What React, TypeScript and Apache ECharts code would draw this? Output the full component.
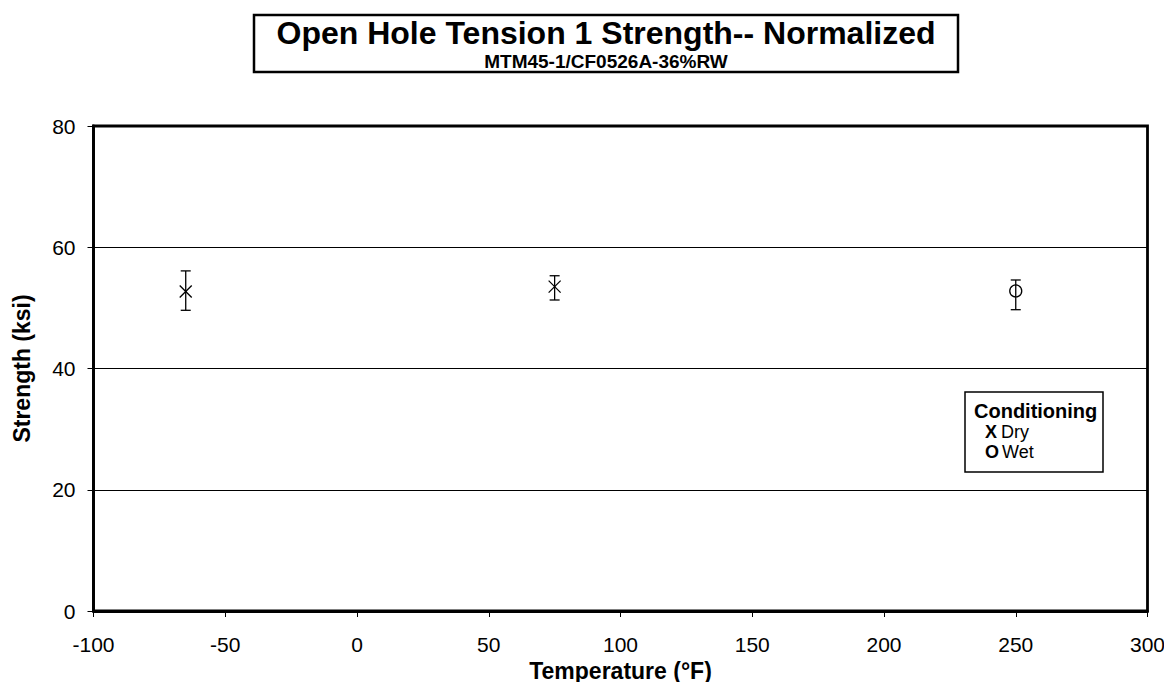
import React, { useEffect, useRef } from "react";
import * as echarts from "echarts";

// Test temperatures (°F), normalized strength statistics (ksi) and conditioning
const temperatures = [-65, 75, 250];
const meanStrength = [52.7, 53.5, 52.8];
const minStrength = [49.6, 51.3, 49.7];
const maxStrength = [56.1, 55.3, 54.6];
const conditioning = ["Dry", "Dry", "Wet"];

const xTicks = { min: -100, max: 300, interval: 50 };
const yTicks = { min: 0, max: 80, interval: 20 };

const FONT = "'Liberation Sans', Arial, Helvetica, sans-serif";

export default function App() {
  const ref = useRef<HTMLDivElement>(null);

  useEffect(() => {
    if (!ref.current) return;
    const chart = echarts.init(ref.current, null, { renderer: "svg" });

    const points = temperatures.map((t, i) => [
      t,
      meanStrength[i],
      minStrength[i],
      maxStrength[i],
      conditioning[i] === "Dry" ? 0 : 1,
    ]);

    // Error bar from min to max with caps, plus an X (dry) or O (wet) at the mean
    const renderItem = (params: any, api: any) => {
      const x = api.value(0);
      const pMean = api.coord([x, api.value(1)]);
      const pLo = api.coord([x, api.value(2)]);
      const pHi = api.coord([x, api.value(3)]);
      const kind = api.value(4);
      const cap = 5;
      const m = 6;
      const stroke = { stroke: "#000", lineWidth: 1.3, fill: "none" };
      const children: any[] = [
        { type: "line", shape: { x1: pLo[0], y1: pLo[1], x2: pHi[0], y2: pHi[1] }, style: stroke },
        { type: "line", shape: { x1: pLo[0] - cap, y1: pLo[1], x2: pLo[0] + cap, y2: pLo[1] }, style: stroke },
        { type: "line", shape: { x1: pHi[0] - cap, y1: pHi[1], x2: pHi[0] + cap, y2: pHi[1] }, style: stroke },
      ];
      if (kind === 0) {
        children.push(
          { type: "line", shape: { x1: pMean[0] - m, y1: pMean[1] - m, x2: pMean[0] + m, y2: pMean[1] + m }, style: stroke },
          { type: "line", shape: { x1: pMean[0] - m, y1: pMean[1] + m, x2: pMean[0] + m, y2: pMean[1] - m }, style: stroke }
        );
      } else {
        children.push({
          type: "circle",
          shape: { cx: pMean[0], cy: pMean[1], r: m },
          style: { stroke: "#000", lineWidth: 1.3, fill: "none" },
        });
      }
      return { type: "group", children };
    };

    chart.setOption({
      animation: false,
      backgroundColor: "#fff",
      textStyle: { fontFamily: FONT, color: "#000" },
      grid: {
        left: 93.5,
        right: 24.5,
        top: 126,
        bottom: 79,
        show: true,
        borderColor: "#000",
        borderWidth: 2.8,
        backgroundColor: "transparent",
      },
      xAxis: {
        type: "value",
        min: xTicks.min,
        max: xTicks.max,
        interval: xTicks.interval,
        name: "Temperature (°F)",
        nameLocation: "middle",
        nameGap: 48,
        nameTextStyle: { fontFamily: FONT, fontWeight: "bold", fontSize: 23, color: "#000" },
        axisLine: { show: true, onZero: false, lineStyle: { color: "#000", width: 2.8 } },
        axisTick: { show: true, inside: false, length: 6, lineStyle: { color: "#000", width: 1 } },
        axisLabel: { fontFamily: FONT, fontSize: 21, color: "#000", margin: 23 },
        splitLine: { show: false },
      },
      yAxis: {
        type: "value",
        min: yTicks.min,
        max: yTicks.max,
        interval: yTicks.interval,
        name: "Strength (ksi)",
        nameLocation: "middle",
        nameGap: 60,
        nameRotate: 90,
        nameTextStyle: { fontFamily: FONT, fontWeight: "bold", fontSize: 23, color: "#000" },
        axisLine: { show: true, onZero: false, lineStyle: { color: "#000", width: 2.8 } },
        axisTick: { show: true, inside: false, length: 6, lineStyle: { color: "#000", width: 1 } },
        axisLabel: { fontFamily: FONT, fontSize: 21, color: "#000", margin: 18 },
        splitLine: { show: true, lineStyle: { color: "#000", width: 1 } },
      },
      series: [
        {
          type: "custom",
          renderItem,
          data: points,
          encode: { x: 0, y: 1 },
          z: 5,
        },
      ],
      graphic: [
        {
          type: "rect",
          shape: { x: 254, y: 15, width: 704, height: 57 },
          style: { fill: "#fff", stroke: "#000", lineWidth: 2.5 },
        },
        {
          type: "text",
          x: 606,
          y: 33,
          style: {
            text: "Open Hole Tension 1 Strength-- Normalized",
            fontFamily: FONT,
            fontWeight: "bold",
            fontSize: 32,
            fill: "#000",
            align: "center",
            verticalAlign: "middle",
          },
        },
        {
          type: "text",
          x: 606,
          y: 61,
          style: {
            text: "MTM45-1/CF0526A-36%RW",
            fontFamily: FONT,
            fontWeight: "bold",
            fontSize: 19,
            fill: "#000",
            align: "center",
            verticalAlign: "middle",
          },
        },
        {
          type: "rect",
          z: 10,
          shape: { x: 965, y: 392, width: 138, height: 80 },
          style: { fill: "#fff", stroke: "#000", lineWidth: 1.5 },
        },
        {
          type: "text",
          z: 11,
          x: 974,
          y: 411,
          style: { text: "Conditioning", fontFamily: FONT, fontWeight: "bold", fontSize: 20, fill: "#000", verticalAlign: "middle" },
        },
        {
          type: "text",
          z: 11,
          x: 985,
          y: 432,
          style: { text: "X", fontFamily: FONT, fontWeight: "bold", fontSize: 18, fill: "#000", verticalAlign: "middle" },
        },
        {
          type: "text",
          z: 11,
          x: 1001,
          y: 432,
          style: { text: "Dry", fontFamily: FONT, fontSize: 18, fill: "#000", verticalAlign: "middle" },
        },
        {
          type: "text",
          z: 11,
          x: 985,
          y: 452,
          style: { text: "O", fontFamily: FONT, fontWeight: "bold", fontSize: 18, fill: "#000", verticalAlign: "middle" },
        },
        {
          type: "text",
          z: 11,
          x: 1002,
          y: 452,
          style: { text: "Wet", fontFamily: FONT, fontSize: 18, fill: "#000", verticalAlign: "middle" },
        },
      ],
    });

    return () => chart.dispose();
  }, []);

  return <div ref={ref} style={{ width: 1172, height: 690, margin: -8 }} />;
}
